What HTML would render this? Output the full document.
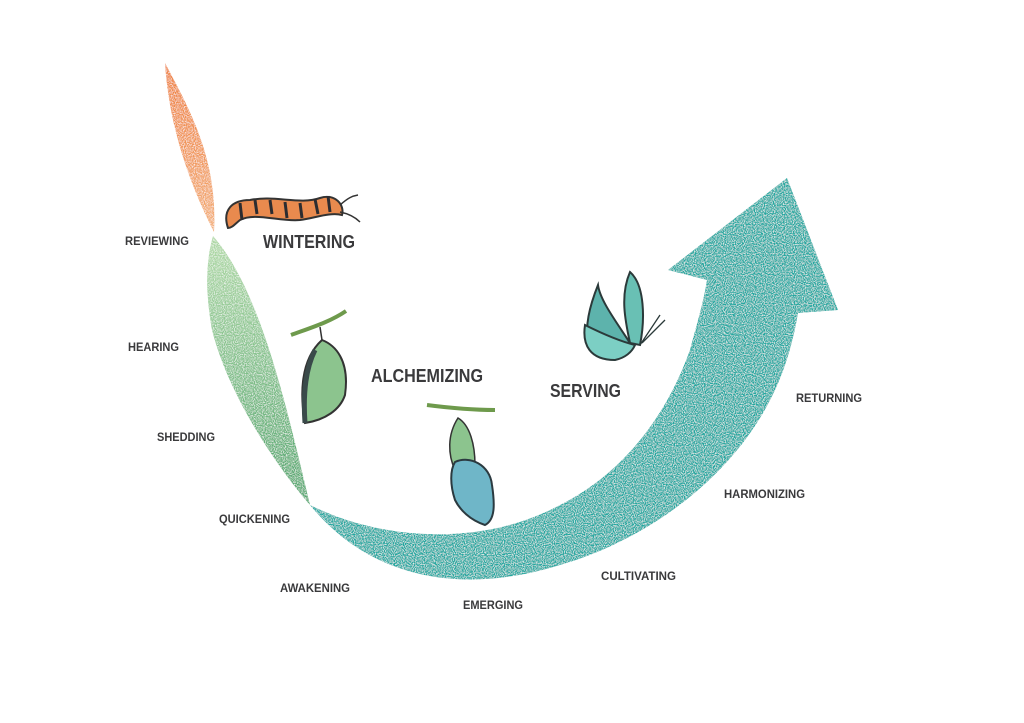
<!DOCTYPE html>
<html><head><meta charset="utf-8"><style>
html,body{margin:0;padding:0;background:#fff;}
svg{display:block}
text{font-family:"Liberation Sans",sans-serif;font-weight:bold;fill:#3a3a3c;}
</style></head><body>
<svg width="1024" height="723" viewBox="0 0 1024 723" xmlns="http://www.w3.org/2000/svg">
<defs>
<filter id="spk" x="0" y="0" width="100%" height="100%">
<feTurbulence type="fractalNoise" baseFrequency="0.9" numOctaves="1" seed="3" result="n"/>
<feColorMatrix in="n" type="matrix" values="0 0 0 0 1  0 0 0 0 1  0 0 0 0 1  0 0 0 -2.2 1.3" result="w"/>
<feComposite in="w" in2="SourceGraphic" operator="in" result="wi"/>
<feMerge><feMergeNode in="SourceGraphic"/><feMergeNode in="wi"/></feMerge>
</filter>
<linearGradient id="og" x1="0" y1="0" x2="0" y2="1"><stop offset="0" stop-color="#ee7f3a"/><stop offset="1" stop-color="#f3ad75"/></linearGradient>
<linearGradient id="gg" x1="0" y1="0" x2="0" y2="1"><stop offset="0" stop-color="#b0d9a6"/><stop offset="1" stop-color="#4fa56c"/></linearGradient>
</defs>
<path filter="url(#spk)" fill="url(#og)" d="M165,63 C190,110 218,160 214,232 C198,200 170,140 165,63 Z"/>
<path filter="url(#spk)" fill="url(#gg)" d="M213,236 C260,290 285,400 310,505 C280,470 230,400 212,330 C205,290 206,260 213,236 Z"/>
<path filter="url(#spk)" fill="#24a8a1" d="M310,505 C380,540 480,548 560,505 C620,475 665,420 690,350 C698,320 704,300 707,280 L668,270 L787,178 L838,310 L798,313 C790,360 775,400 745,440 C700,500 630,545 560,565 C480,590 380,590 310,505 Z"/>
<g>
<path d="M228,228 C222,210 232,200 250,200 C275,195 300,205 320,198 C335,193 345,205 342,215 C330,212 315,218 300,220 C280,222 255,212 240,220 C235,224 232,228 228,228 Z" fill="#e98a4e" stroke="#333" stroke-width="2"/>
<g stroke="#2c2c30" stroke-width="3"><line x1="240" y1="203" x2="242" y2="220"/><line x1="255" y1="200" x2="257" y2="214"/><line x1="270" y1="200" x2="272" y2="214"/><line x1="285" y1="202" x2="287" y2="218"/><line x1="300" y1="203" x2="302" y2="218"/><line x1="315" y1="199" x2="318" y2="214"/><line x1="328" y1="196" x2="330" y2="212"/></g>
<path d="M340,205 C348,198 352,196 358,195 M340,212 C350,214 356,218 360,222" stroke="#333" stroke-width="1.5" fill="none"/>
</g>
<path d="M291,335 C310,328 330,322 346,311" stroke="#6e9a4c" stroke-width="4" fill="none"/>
<line x1="320" y1="327" x2="322" y2="340" stroke="#333" stroke-width="1.5"/>
<path d="M322,340 C335,345 350,360 345,395 C340,410 325,420 305,423 C300,395 300,360 322,340 Z" fill="#8cc48e" stroke="#333" stroke-width="2"/>
<path d="M305,423 C303,395 305,370 315,350" stroke="#3a4a4a" stroke-width="5" fill="none"/>
<path d="M427,405 C450,408 475,410 495,410" stroke="#6e9a4c" stroke-width="4" fill="none"/>
<path d="M458,418 C470,425 475,445 475,465 L455,470 C448,455 447,435 458,418 Z" fill="#8cc48e" stroke="#333" stroke-width="1.5"/>
<path d="M455,462 C470,455 490,465 492,485 C495,505 495,520 485,525 C470,520 460,510 455,500 C450,485 450,470 455,462 Z" fill="#6fb6c8" stroke="#2b3a40" stroke-width="2"/>
<g stroke="#2b3a3a" stroke-width="2">
<path d="M630,343 C625,320 620,295 630,272 C645,285 645,320 640,345 Z" fill="#69c0b4"/>
<path d="M630,343 C615,320 600,300 598,285 C590,305 585,325 588,340 Z" fill="#5db3ac"/>
<path d="M635,345 C615,340 595,330 585,325 C582,345 590,360 615,360 C625,358 632,352 635,345 Z" fill="#7ccfc4"/>
<path d="M640,345 L660,315 M642,343 L665,320" fill="none" stroke-width="1.3"/>
</g>
<text x="263" y="248" font-size="18" textLength="92" lengthAdjust="spacingAndGlyphs">WINTERING</text>
<text x="371" y="382" font-size="18" textLength="112" lengthAdjust="spacingAndGlyphs">ALCHEMIZING</text>
<text x="550" y="397" font-size="18" textLength="71" lengthAdjust="spacingAndGlyphs">SERVING</text>
<g font-size="11.5">
<text x="125" y="245" textLength="64" lengthAdjust="spacingAndGlyphs">REVIEWING</text>
<text x="128" y="351" textLength="51" lengthAdjust="spacingAndGlyphs">HEARING</text>
<text x="157" y="441" textLength="58" lengthAdjust="spacingAndGlyphs">SHEDDING</text>
<text x="219" y="523" textLength="71" lengthAdjust="spacingAndGlyphs">QUICKENING</text>
<text x="280" y="592" textLength="70" lengthAdjust="spacingAndGlyphs">AWAKENING</text>
<text x="463" y="609" textLength="60" lengthAdjust="spacingAndGlyphs">EMERGING</text>
<text x="601" y="580" textLength="75" lengthAdjust="spacingAndGlyphs">CULTIVATING</text>
<text x="724" y="498" textLength="81" lengthAdjust="spacingAndGlyphs">HARMONIZING</text>
<text x="796" y="402" textLength="66" lengthAdjust="spacingAndGlyphs">RETURNING</text>
</g>
</svg>
</body></html>
